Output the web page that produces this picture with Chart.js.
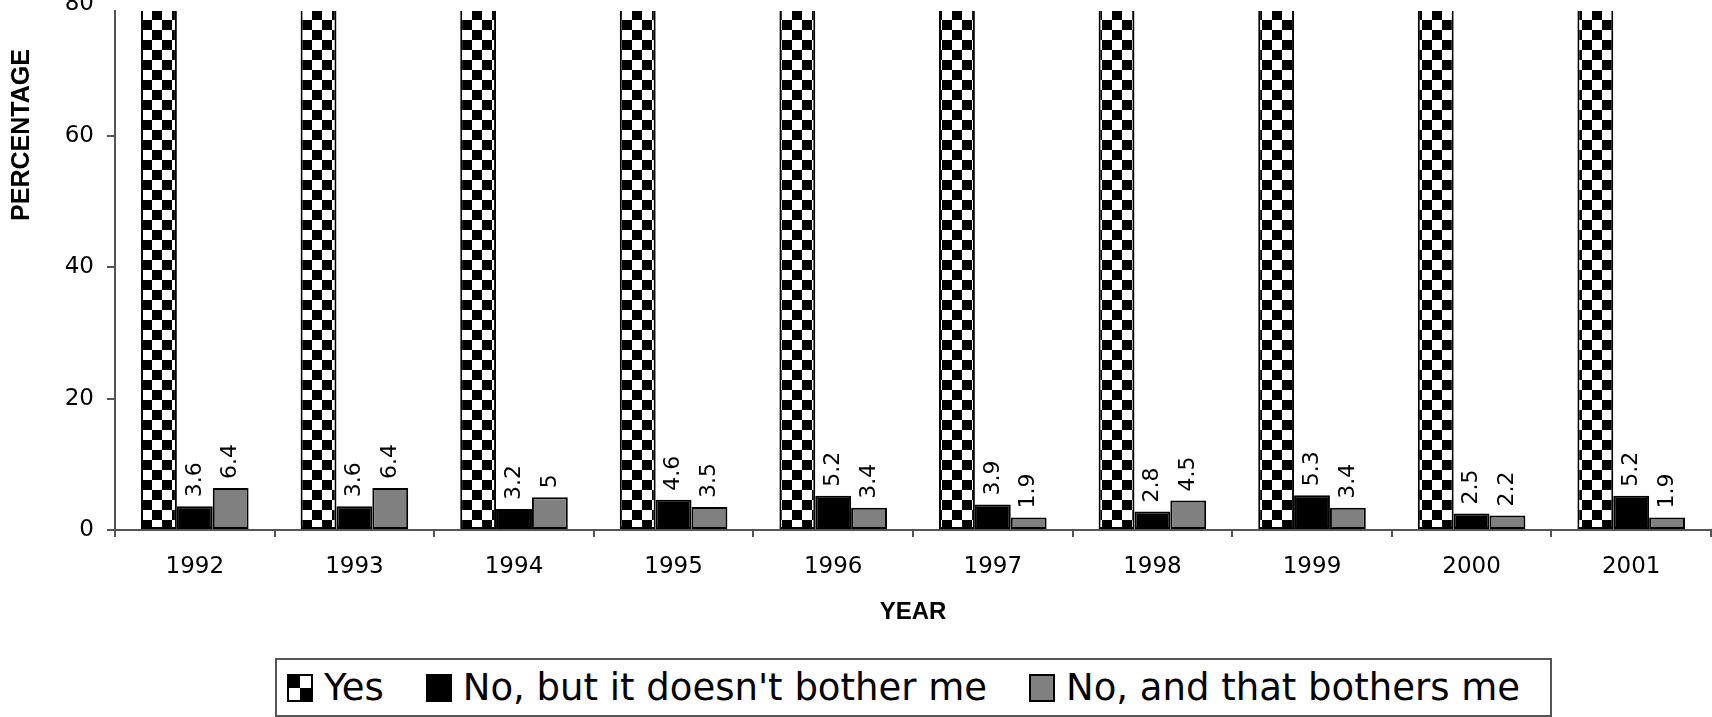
<!DOCTYPE html>
<html>
<head>
<meta charset="utf-8">
<script src="https://cdn.jsdelivr.net/npm/chart.js@4.4.0/dist/chart.umd.min.js"></script>
<style>
    body { margin: 0; background: #fff; }
    #wrap { position: relative; width: 1712px; height: 717px; overflow: hidden; }
    #legend {
        position: absolute; left: 275px; top: 658px; width: 1277px; height: 59px;
        box-sizing: border-box; border: 2px solid #555; background: #fff;
        display: flex; align-items: center; padding-left: 10px;
        font-family: "DejaVu Sans", Verdana, sans-serif; font-size: 37px; color: #000;
    }
    #legend .item { display: flex; align-items: center; margin-right: 42px; white-space: nowrap; }
    #legend .item canvas { margin-right: 11px; }
</style>
</head>
<body>
<div id="wrap">
    <canvas id="surveyChart" width="1712" height="717"></canvas>
    <div id="legend"></div>
</div>
<script>
// 데이터
var years = ['1992', '1993', '1994', '1995', '1996', '1997', '1998', '1999', '2000', '2001'];
var yesVals = [90.0, 90.0, 91.8, 91.9, 91.4, 94.2, 92.7, 91.3, 95.3, 92.9];   // clipped above the plot, estimated
var noOkVals = [3.6, 3.6, 3.2, 4.6, 5.2, 3.9, 2.8, 5.3, 2.5, 5.2];
var noBadVals = [6.4, 6.4, 5, 3.5, 3.4, 1.9, 4.5, 3.4, 2.2, 1.9];
var seriesNames = ['Yes', "No, but it doesn't bother me", 'No, and that bothers me'];
var yTicks = [0, 20, 40, 60, 80];
var yMax = 79;
var yTitle = 'PERCENTAGE';
var xTitle = 'YEAR';

// 체크무늬 패턴
function makeChecker(cell) {
    var c = document.createElement('canvas');
    c.width = cell * 2; c.height = cell * 2;
    var g = c.getContext('2d');
    g.fillStyle = '#fff'; g.fillRect(0, 0, cell * 2, cell * 2);
    g.fillStyle = '#000';
    g.fillRect(0, 0, cell, cell);
    g.fillRect(cell, cell, cell, cell);
    return c;
}

var ctx = document.getElementById('surveyChart').getContext('2d');
var checker = ctx.createPattern(makeChecker(10), 'repeat');
if (checker.setTransform) checker.setTransform(new DOMMatrix([1, 0, 0, 1, 2, 0]));

// 막대 위 세로 라벨 + y축 제목
var barLabels = {
    id: 'barLabels',
    afterDatasetsDraw: function(chart) {
        var c = chart.ctx;
        c.save();
        c.fillStyle = '#000';
        c.font = '22px "DejaVu Sans"';
        c.textAlign = 'left';
        c.textBaseline = 'middle';
        [1, 2].forEach(function(di) {
            var meta = chart.getDatasetMeta(di);
            meta.data.forEach(function(bar, i) {
                c.save();
                c.translate(bar.x, bar.y - 9);
                c.rotate(-Math.PI / 2);
                c.fillText(String(chart.data.datasets[di].data[i]), 0, 0);
                c.restore();
            });
        });
        c.font = 'bold 25px "Liberation Sans"';
        c.textAlign = 'center';
        c.translate(22.5, 135);
        c.rotate(-Math.PI / 2);
        c.fillText(yTitle, 0, 0);
        c.restore();
    }
};

var chart = new Chart(ctx, {
    type: 'bar',
    data: {
        labels: years,
        datasets: [
            { label: seriesNames[0], data: yesVals, backgroundColor: checker, borderColor: '#000', borderWidth: 2, borderSkipped: false, legendKind: 'checker' },
            { label: seriesNames[1], data: noOkVals, backgroundColor: '#000', borderColor: '#000', borderWidth: 2, borderSkipped: false },
            { label: seriesNames[2], data: noBadVals, backgroundColor: '#808080', borderColor: '#000', borderWidth: 2, borderSkipped: false }
        ]
    },
    options: {
        responsive: false,
        animation: false,
        categoryPercentage: 0.674,
        barPercentage: 1,
        layout: { padding: { top: 11, right: 1, bottom: 90, left: 0 } },
        plugins: {
            legend: { display: false },
            tooltip: { enabled: false }
        },
        scales: {
            x: {
                grid: { drawOnChartArea: false, offset: true, tickLength: 7, color: '#555', lineWidth: 2 },
                border: { color: '#555', width: 2 },
                ticks: { font: { family: 'DejaVu Sans', size: 23 }, color: '#000', padding: 16, maxRotation: 0, autoSkip: false },
                title: { display: true, text: xTitle, color: '#000', font: { family: 'Liberation Sans', size: 24, weight: 'bold' }, padding: { top: 1.5, bottom: 0 } },
                afterFit: function(s) { s.height = 97; s.paddingLeft = 0; s.paddingRight = 0; }
            },
            y: {
                min: 0,
                max: yMax,
                grid: {
                    drawOnChartArea: false, tickLength: 8, lineWidth: 2,
                    color: function(c) { return (c.tick && c.tick.value > yMax) ? 'rgba(0,0,0,0)' : '#555'; }
                },
                border: { color: '#555', width: 2 },
                ticks: { font: { family: 'DejaVu Sans', size: 23 }, color: '#000', padding: 13 },
                afterBuildTicks: function(s) { s.ticks = yTicks.map(function(v) { return { value: v }; }); },
                afterFit: function(s) { s.width = 115; s.paddingTop = 0; s.paddingBottom = 0; }
            }
        }
    },
    plugins: [barLabels]
});

// 범례 (HTML)
var legendEl = document.getElementById('legend');
chart.data.datasets.forEach(function(ds) {
    var item = document.createElement('div');
    item.className = 'item';
    var sw = document.createElement('canvas');
    sw.width = 26; sw.height = 28;
    var g = sw.getContext('2d');
    if (ds.legendKind === 'checker') {
        g.fillStyle = '#fff'; g.fillRect(0, 0, 26, 28);
        g.fillStyle = '#000';
        g.fillRect(0, 0, 13, 14);
        g.fillRect(13, 14, 13, 14);
    } else {
        g.fillStyle = ds.backgroundColor;
        g.fillRect(0, 0, 26, 28);
    }
    g.strokeStyle = '#000'; g.lineWidth = 2;
    g.strokeRect(1, 1, 24, 26);
    var span = document.createElement('span');
    span.textContent = ds.label;
    item.appendChild(sw);
    item.appendChild(span);
    legendEl.appendChild(item);
});
</script>
</body>
</html>
